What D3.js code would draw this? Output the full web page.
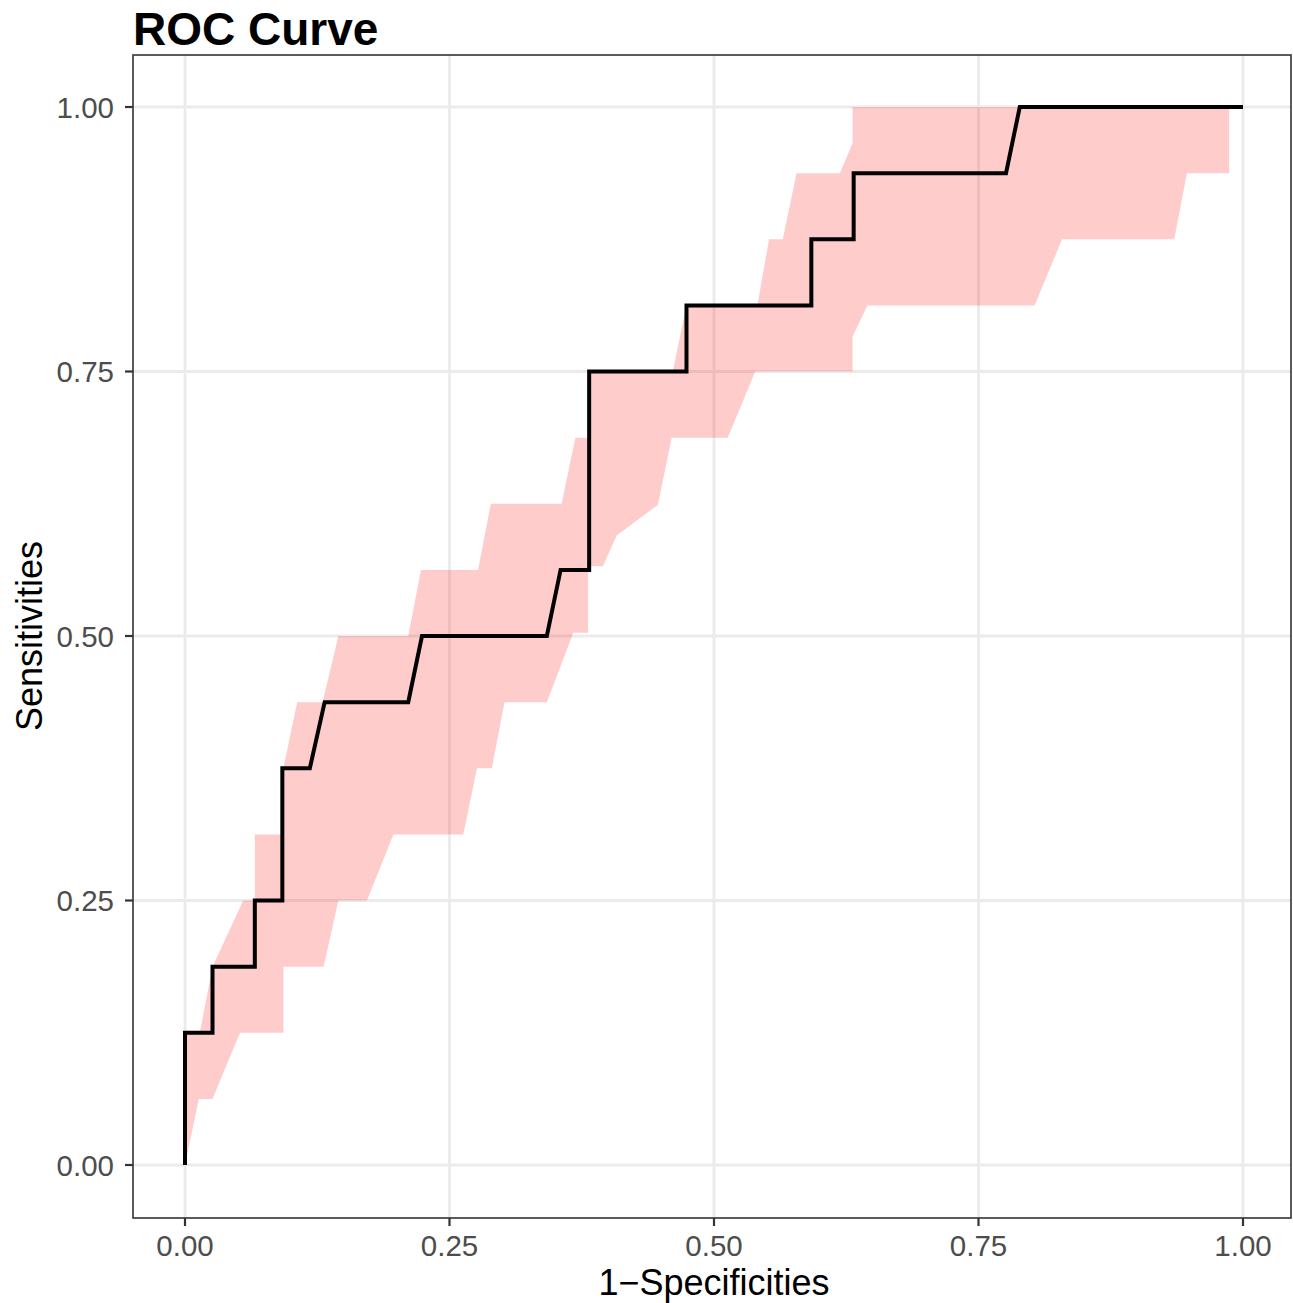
<!DOCTYPE html>
<html>
<head>
<meta charset="utf-8">
<script src="https://cdn.jsdelivr.net/npm/d3@7"></script>
<style>
  body { margin: 0; background: #fff; }
  text { font-family: "Liberation Sans", Arial, sans-serif; }
</style>
</head>
<body>
<svg id="stage" width="1293" height="1303"></svg>
<script>
var svg = d3.select('#stage'),
    WIDTH = 1293,
    HEIGHT = 1303,
    LEFT = 133,
    RIGHT = 1291,
    TOP = 55,
    BOTTOM = 1218;

// ROC curve (1 - specificity, sensitivity)
var rocFpr = [0, 0, 0.026, 0.026, 0.066, 0.066, 0.092, 0.092, 0.118, 0.132, 0.211, 0.224,
              0.342, 0.355, 0.382, 0.382, 0.474, 0.474, 0.592, 0.592, 0.632, 0.632, 0.776, 0.789, 1];
var rocSe = [0, 0.125, 0.125, 0.1875, 0.1875, 0.25, 0.25, 0.375, 0.375, 0.4375, 0.4375, 0.5,
             0.5, 0.5625, 0.5625, 0.75, 0.75, 0.8125, 0.8125, 0.875, 0.875, 0.9375, 0.9375, 1, 1];

// confidence band, upper edge
var upperFpr = [0, 0.014, 0.026, 0.055, 0.066, 0.066, 0.093, 0.093, 0.106, 0.130, 0.145, 0.211,
                0.223, 0.277, 0.289, 0.356, 0.369, 0.381, 0.381, 0.461, 0.474, 0.541, 0.552,
                0.565, 0.578, 0.619, 0.631, 0.631, 0.987];
var upperSe = [0.125, 0.125, 0.1875, 0.25, 0.25, 0.3125, 0.3125, 0.375, 0.4375, 0.4375, 0.5, 0.5,
               0.5625, 0.5625, 0.625, 0.625, 0.6875, 0.6875, 0.75, 0.75, 0.8125, 0.8125, 0.875,
               0.875, 0.9375, 0.9375, 0.966, 1, 1];

// confidence band, lower edge
var lowerFpr = [0, 0.013, 0.026, 0.052, 0.093, 0.093, 0.131, 0.145, 0.172, 0.197, 0.263, 0.276,
                0.290, 0.302, 0.342, 0.367, 0.381, 0.381, 0.395, 0.408, 0.447, 0.460, 0.513,
                0.539, 0.631, 0.631, 0.645, 0.803, 0.829, 0.935, 0.947, 0.987];
var lowerSe = [0, 0.0625, 0.0625, 0.125, 0.125, 0.1875, 0.1875, 0.25, 0.25, 0.3125, 0.3125, 0.375,
               0.375, 0.4375, 0.4375, 0.503, 0.503, 0.566, 0.566, 0.595, 0.624, 0.6875, 0.6875,
               0.75, 0.75, 0.783, 0.8125, 0.8125, 0.875, 0.875, 0.9375, 0.9375];

var ticks = [0, 0.25, 0.5, 0.75, 1],
    tickLabels = ['0.00', '0.25', '0.50', '0.75', '1.00'];

var x = d3.scaleLinear().domain([0, 1]).range([185, 1243]),
    y = d3.scaleLinear().domain([0, 1]).range([1165, 107]);

function zip(xs, ys) {
  return xs.map(function (d, i) { return [d, ys[i]]; });
}

var line = d3.line()
  .x(function (d) { return x(d[0]); })
  .y(function (d) { return y(d[1]); });

svg.append('rect')
  .attr('width', WIDTH)
  .attr('height', HEIGHT)
  .attr('fill', '#fff');

var clip = svg.append('clipPath').attr('id', 'panel');
clip.append('rect')
  .attr('x', LEFT).attr('y', TOP)
  .attr('width', RIGHT - LEFT).attr('height', BOTTOM - TOP);

var panel = svg.append('g').attr('clip-path', 'url(#panel)');

// grid
panel.selectAll('.gx')
  .data(ticks)
  .enter().append('line')
  .attr('x1', x).attr('x2', x)
  .attr('y1', TOP).attr('y2', BOTTOM)
  .attr('stroke', '#ebebeb')
  .attr('stroke-width', 2.8);

panel.selectAll('.gy')
  .data(ticks)
  .enter().append('line')
  .attr('y1', y).attr('y2', y)
  .attr('x1', LEFT).attr('x2', RIGHT)
  .attr('stroke', '#ebebeb')
  .attr('stroke-width', 2.8);

// band
var band = zip(upperFpr, upperSe).concat(zip(lowerFpr, lowerSe).reverse());
panel.append('path')
  .attr('d', line(band) + 'Z')
  .attr('fill', '#ff0000')
  .attr('fill-opacity', 0.2)
  .attr('stroke', 'none');

// curve
panel.append('path')
  .attr('d', line(zip(rocFpr, rocSe)))
  .attr('fill', 'none')
  .attr('stroke', '#000')
  .attr('stroke-width', 4)
  .attr('stroke-linejoin', 'miter');

// border
svg.append('rect')
  .attr('x', LEFT).attr('y', TOP)
  .attr('width', RIGHT - LEFT).attr('height', BOTTOM - TOP)
  .attr('fill', 'none')
  .attr('stroke', '#333')
  .attr('stroke-width', 1.6);

// x axis
var xAxis = svg.append('g');
xAxis.selectAll('line')
  .data(ticks)
  .enter().append('line')
  .attr('x1', x).attr('x2', x)
  .attr('y1', BOTTOM).attr('y2', BOTTOM + 8)
  .attr('stroke', '#333')
  .attr('stroke-width', 2.2);
xAxis.selectAll('text')
  .data(ticks)
  .enter().append('text')
  .attr('x', x)
  .attr('y', 1256)
  .attr('text-anchor', 'middle')
  .attr('font-size', 29.5)
  .attr('fill', '#4d4d4d')
  .text(function (d, i) { return tickLabels[i]; });

// y axis
var yAxis = svg.append('g');
yAxis.selectAll('line')
  .data(ticks)
  .enter().append('line')
  .attr('y1', y).attr('y2', y)
  .attr('x1', LEFT - 8).attr('x2', LEFT)
  .attr('stroke', '#333')
  .attr('stroke-width', 2.2);
yAxis.selectAll('text')
  .data(ticks)
  .enter().append('text')
  .attr('x', 114)
  .attr('y', function (d) { return y(d) + 10.5; })
  .attr('text-anchor', 'end')
  .attr('font-size', 29.5)
  .attr('fill', '#4d4d4d')
  .text(function (d, i) { return tickLabels[i]; });

// titles
svg.append('text')
  .attr('x', 714)
  .attr('y', 1295)
  .attr('text-anchor', 'middle')
  .attr('font-size', 36)
  .attr('fill', '#000')
  .text('1\u2212Specificities');

svg.append('text')
  .attr('transform', 'translate(42,636) rotate(-90)')
  .attr('text-anchor', 'middle')
  .attr('font-size', 36)
  .attr('fill', '#000')
  .text('Sensitivities');

svg.append('text')
  .attr('x', 133)
  .attr('y', 45)
  .attr('font-size', 46)
  .attr('font-weight', 'bold')
  .attr('fill', '#000')
  .text('ROC Curve');
</script>
</body>
</html>
